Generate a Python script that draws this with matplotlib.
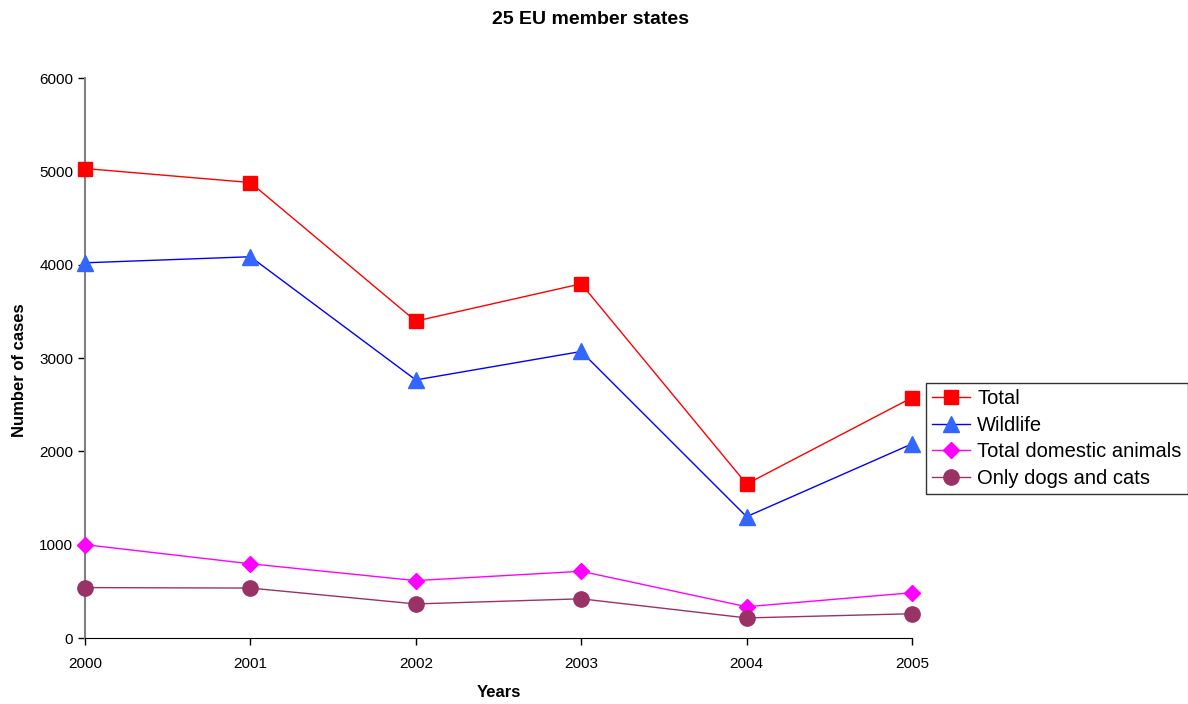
import numpy as np
import matplotlib.pyplot as plt

plt.rcParams['font.family'] = ['Liberation Sans', 'DejaVu Sans']

years = [2000, 2001, 2002, 2003, 2004, 2005]
total = [5030, 4880, 3395, 3795, 1650, 2575]
wildlife = [4020, 4085, 2765, 3070, 1300, 2080]
domestic = [1000, 795, 615, 715, 335, 485]
dogs_cats = [540, 535, 365, 420, 215, 260]

fig = plt.figure(figsize=(11.88, 7.04), dpi=100)
ax = fig.add_axes([85/1188, 1-638/704, (912-85)/1188, (638-78)/704])

ax.plot(years, total, color='#FF0000', lw=1, marker='s', ms=10, mfc='#FF0000', mec='#FF0000', label='Total', clip_on=False, zorder=5)
ax.plot(years, wildlife, color='#0000FF', lw=1, marker='^', ms=11, mfc='#3366FF', mec='#3366FF', label='Wildlife', clip_on=False, zorder=5)
ax.plot(years, domestic, color='#FF00FF', lw=1, marker='D', ms=8, mfc='#FF00FF', mec='#FF00FF', label='Total domestic animals', clip_on=False, zorder=5)
ax.plot(years, dogs_cats, color='#993366', lw=1, marker='o', ms=11, mfc='#993366', mec='#993366', label='Only dogs and cats', clip_on=False, zorder=5)

ax.set_xlim(2000, 2005)
ax.set_ylim(0, 6000)
ax.set_xticks(years)
ax.set_yticks(np.arange(0, 6001, 1000))
ax.tick_params(labelsize=11, length=5, direction='out', width=1)
ax.tick_params(axis='x', pad=9)

for s in ['top', 'right']:
    ax.spines[s].set_visible(False)
ax.spines['left'].set_color('#808080')
ax.spines['left'].set_linewidth(1.5)
ax.spines['bottom'].set_color('black')

ax.set_xlabel('Years', fontsize=12, fontweight='bold', labelpad=10)
ax.set_ylabel('Number of cases', fontsize=12, fontweight='bold')
ax.yaxis.set_label_coords(-0.07, 0.479)
fig.suptitle('25 EU member states', fontsize=14, fontweight='bold', x=590/1188, y=0.985)

leg = ax.legend(loc='upper left', bbox_to_anchor=(926/1188, 1-383/704), bbox_transform=fig.transFigure,
                fontsize=14.5, frameon=True, fancybox=False, shadow=False, borderpad=0.3,
                labelspacing=0.38, handlelength=1.9, handletextpad=0.35, borderaxespad=0)
leg.get_frame().set_edgecolor('black')
leg.get_frame().set_linewidth(1)

fig.savefig('out.png', dpi=100)
